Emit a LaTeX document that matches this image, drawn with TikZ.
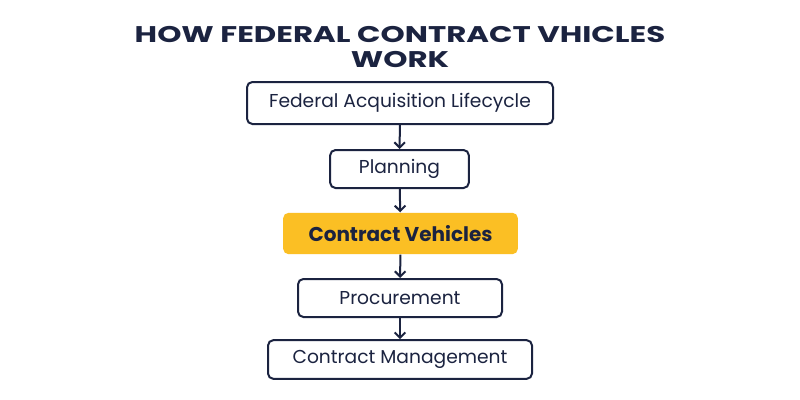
\documentclass[tikz,border=0pt]{standalone}
\usepackage{fontspec}
\setmainfont{Poppins}
\definecolor{navy}{HTML}{1B2340}
\definecolor{gold}{HTML}{FBBF24}
\tikzset{every picture/.style={line width=0.75pt}}
\tikzset{stepbox/.style={draw=navy,line width=1.5pt,rounded corners=4pt,text=navy,font=\fontsize{14}{16}\selectfont,inner sep=0pt},
  goldbox/.style={fill=gold,rounded corners=4pt,text=navy,font=\fontsize{15}{16}\bfseries,inner sep=0pt},
  flow/.style={draw=navy,line width=1.5pt,-{Straight Barb[length=4pt,width=8pt]}}}
\usetikzlibrary{arrows.meta}
\begin{document}
\begin{tikzpicture}[x=0.75pt,y=0.75pt,yscale=-1,xscale=1]
\useasboundingbox[fill=white] (0,0) rectangle (800,400);

% Title
\node (title) at (400,47) [text=navy,align=center,font=\fontsize{17}{18.5}\bfseries,xscale=1.36] {HOW FEDERAL CONTRACT VHICLES\\WORK};

% Boxes
\node (life) at (400,103) [stepbox,minimum width=229.5pt,minimum height=31.5pt] {Federal Acquisition Lifecycle};
\node (plan) at (399.5,169) [stepbox,minimum width=104pt,minimum height=28.5pt] {Planning};
\node (veh) at (400.5,233.5) [goldbox,minimum width=176pt,minimum height=31pt] {Contract Vehicles};
\node (proc) at (400,298) [stepbox,minimum width=153pt,minimum height=28.5pt] {Procurement};
\node (mgmt) at (400,359.5) [stepbox,minimum width=198pt,minimum height=29pt] {Contract Management};

% Arrows
\draw[flow] (life) -- (plan);
\draw[flow] (plan) -- (veh);
\draw[flow] (veh) -- (proc);
\draw[flow] (proc) -- (mgmt);

\end{tikzpicture}
\end{document}
